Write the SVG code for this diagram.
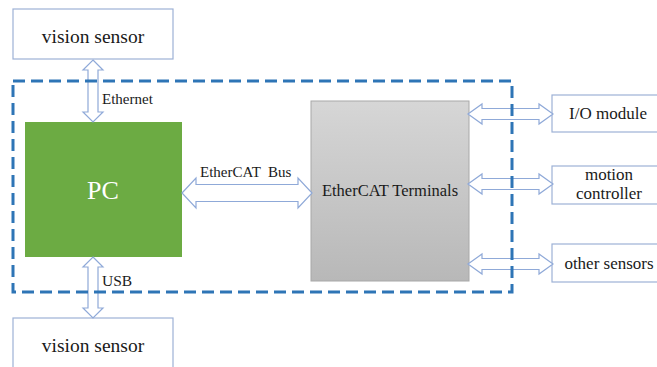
<svg xmlns="http://www.w3.org/2000/svg" width="657" height="367" viewBox="0 0 657 367">
  <defs>
    <linearGradient id="gray" x1="0" y1="0" x2="0" y2="1">
      <stop offset="0" stop-color="#d6d6d6"/>
      <stop offset="1" stop-color="#b8b8b8"/>
    </linearGradient>
    <style>
      .box { fill: #ffffff; stroke: #9db1d6; stroke-width: 1.2; }
      .arrow { fill: #ffffff; stroke: #8fa9d8; stroke-width: 1.2; stroke-linejoin: miter; }
      .boundary { fill: none; stroke: #2e75b6; stroke-width: 3; stroke-dasharray: 12 6; }
    </style>
  </defs>
  <rect width="657" height="367" fill="#ffffff"/>

  <g id="vision-sensor-top">
    <rect class="box" x="13" y="9" width="160" height="50"/>
    <text x="93" y="43" font-family="Liberation Serif, serif" font-size="19.5" fill="#1a1a1a" text-anchor="middle">vision sensor</text>
  </g>
  <g id="vision-sensor-bottom">
    <rect class="box" x="13" y="318" width="160" height="60"/>
    <text x="93" y="352" font-family="Liberation Serif, serif" font-size="19.5" fill="#1a1a1a" text-anchor="middle">vision sensor</text>
  </g>
  <g id="pc">
    <rect x="25" y="122" width="157" height="135" fill="#6cab43"/>
    <text x="103" y="199" font-family="Liberation Serif, serif" font-size="26" fill="#ffffff" text-anchor="middle">PC</text>
  </g>
  <g id="ethercat-terminals">
    <rect x="311" y="101" width="158" height="180" fill="url(#gray)" stroke="#a8a8a8" stroke-width="1"/>
    <text x="390" y="196" font-family="Liberation Serif, serif" font-size="16.5" fill="#1a1a1a" text-anchor="middle">EtherCAT Terminals</text>
  </g>
  <g id="io-module">
    <rect class="box" x="552" y="95" width="110" height="37"/>
    <text x="608" y="119" font-family="Liberation Serif, serif" font-size="17" fill="#1a1a1a" text-anchor="middle">I/O module</text>
  </g>
  <g id="motion-controller">
    <rect class="box" x="552" y="166" width="110" height="38"/>
    <text x="609" y="180" font-family="Liberation Serif, serif" font-size="17" fill="#1a1a1a" text-anchor="middle">motion</text>
    <text x="609" y="199" font-family="Liberation Serif, serif" font-size="17" fill="#1a1a1a" text-anchor="middle">controller</text>
  </g>
  <g id="other-sensors">
    <rect class="box" x="552" y="244" width="110" height="38"/>
    <text x="609" y="269" font-family="Liberation Serif, serif" font-size="17" fill="#1a1a1a" text-anchor="middle">other sensors</text>
  </g>

  <g id="connectors">
    <path class="arrow" d="M93,60 L103,70 L98,70 L98,112 L103,112 L93,122 L83,112 L88,112 L88,70 L83,70 Z"/>
    <text x="102" y="104" font-family="Liberation Serif, serif" font-size="15" fill="#1a1a1a">Ethernet</text>
    <path class="arrow" d="M93,257 L103,267 L98,267 L98,308 L103,308 L93,318 L83,308 L88,308 L88,267 L83,267 Z"/>
    <text x="102" y="286" font-family="Liberation Serif, serif" font-size="15.5" fill="#1a1a1a">USB</text>
    <path class="arrow" d="M182,193 L196,178 L196,184.5 L298,184.5 L298,178 L312,193 L298,208 L298,201.5 L196,201.5 L196,208 Z"/>
    <text x="200" y="177" font-family="Liberation Serif, serif" font-size="15" fill="#1a1a1a" xml:space="preserve">EtherCAT  Bus</text>
    <path class="arrow" d="M468,114 L482,104 L482,108.5 L539,108.5 L539,104 L553,114 L539,124 L539,119.5 L482,119.5 L482,124 Z"/>
    <path class="arrow" d="M468,184 L482,174 L482,178.5 L539,178.5 L539,174 L553,184 L539,194 L539,189.5 L482,189.5 L482,194 Z"/>
    <path class="arrow" d="M468,264 L482,254 L482,258.5 L539,258.5 L539,254 L553,264 L539,274 L539,269.5 L482,269.5 L482,274 Z"/>
  </g>

  <g id="ethercat-boundary">
    <rect class="boundary" x="13" y="81" width="499" height="211"/>
  </g>
</svg>
